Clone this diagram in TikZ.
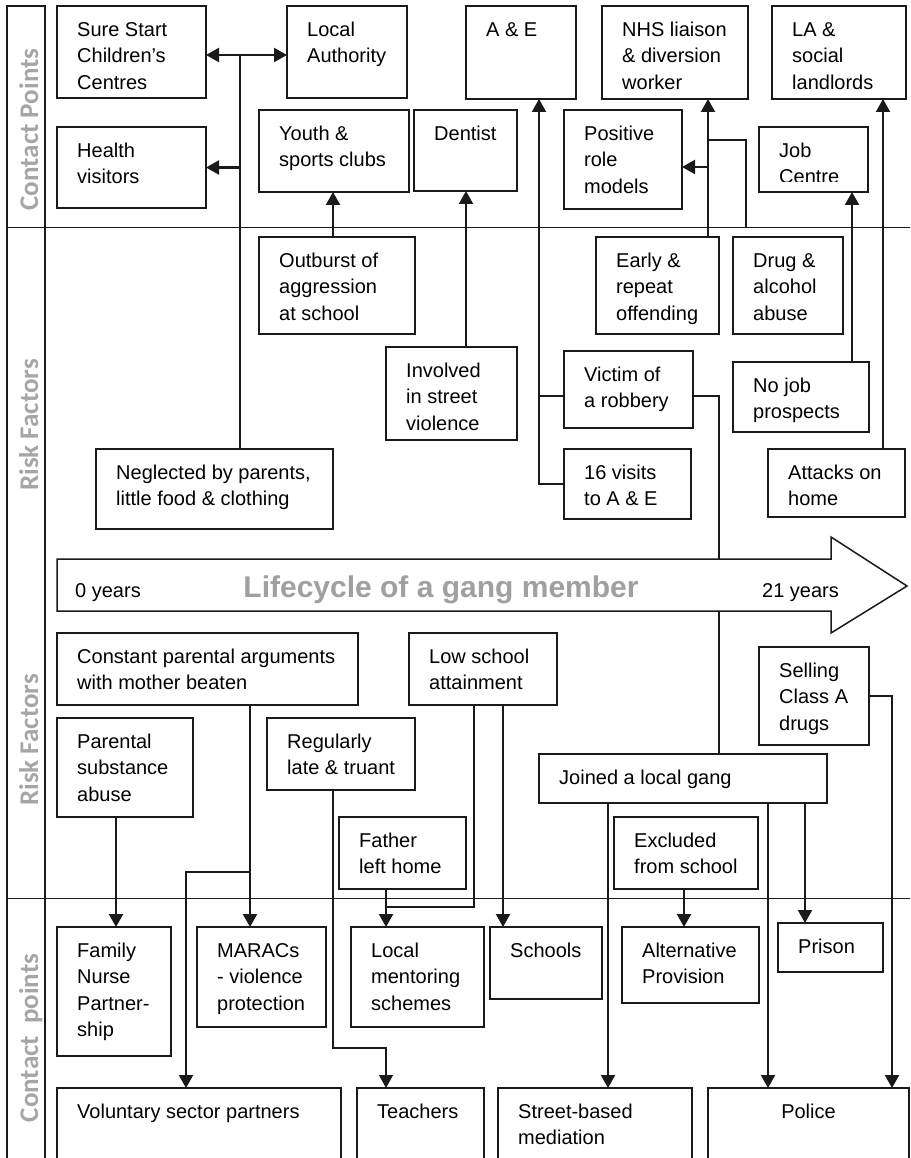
\documentclass[tikz,border=0pt]{standalone}
\usepackage{fontspec}
\setmainfont{Liberation Sans}
\newfontfamily\calib{Carlito}
\usetikzlibrary{arrows.meta,calc}
\definecolor{lblgray}{HTML}{A6A6A6}
\definecolor{titgray}{HTML}{A0A0A0}
\definecolor{ink}{HTML}{1A1A1A}
\newcommand\mkbox[6]{%
  \node[cbox, minimum width={(#4)-(#2)}, minimum height={(#5)-(#3)}] (#1) at (#2,#3) {};
  \node[ctext] (#1-t) at ({#2+20},{#3+14}) {\rule{0pt}{16pt}#6};}
\begin{document}
\begin{tikzpicture}[x=1pt,y=-1pt,
  cbox/.style={draw=ink, line width=1.5pt, anchor=north west, inner sep=0pt, outer sep=0pt, fill=white},
  ctext/.style={anchor=north west, align=left, inner sep=0pt, font=\fontsize{20}{26.5}\selectfont},
  sidelbl/.style={rotate=90, anchor=base, inner sep=0pt, text=lblgray, font=\calib\bfseries\fontsize{27}{27}\selectfont},
  thk/.style={draw=ink, line width=2.2pt},
  thn/.style={draw=ink, line width=1.3pt},
  mid/.style={draw=ink, line width=1.6pt},
  divl/.style={draw=ink, line width=1pt},
  >={Triangle[length=13pt,width=14pt]}]
\useasboundingbox (0,0) rectangle (910,1158);
\clip (0,0) rectangle (910,1158);
% frame and dividers
\draw[line width=1.5pt, draw=ink] (7,1170) -- (7,6) -- (45,6) -- (45,1170);
\draw[divl] (7,228) -- (910,228);
\draw[divl] (7,898) -- (910,898);
\node[sidelbl] (l1) at (38,129.5) {Contact Points};
\node[sidelbl] (l2) at (38,425) {Risk Factors};
\node[sidelbl] (l3) at (38,740) {Risk Factors};
\node[sidelbl] (l4) at (38,1038) {Contact\hspace{0.45em}points};
% top contact points
\mkbox{ss}{57}{6}{206}{98}{Sure Start\\Children’s\\Centres}
\mkbox{la}{287}{6}{407}{98}{Local\\Authority}
\mkbox{ae}{466}{6}{576}{99}{A \& E}
\mkbox{nhs}{602}{6}{748}{99}{NHS liaison\\\& diversion\\worker}
\mkbox{las}{772}{6}{906}{99}{LA \&\\social\\landlords}
\mkbox{hv}{57}{127}{206}{208}{Health\\visitors}
\mkbox{ys}{259}{110}{409}{192}{Youth \&\\sports clubs}
\mkbox{de}{414}{110}{517}{191}{Dentist}
\mkbox{pr}{564}{110}{682}{209}{Positive\\role\\models}
\node[cbox, minimum width=109, minimum height=65] (jc) at (759,127) {};
\begin{scope}
\clip (759,127) rectangle (868,182);
\node[ctext] (jc-t) at (779,141) {\rule{0pt}{16pt}Job\\Centre};
\end{scope}
% top risk factors
\mkbox{oa}{259}{237}{415}{334}{Outburst of\\aggression\\at school}
\mkbox{er}{596}{237}{719}{334}{Early \&\\repeat\\offending}
\mkbox{da}{733}{237}{843}{334}{Drug \&\\alcohol\\abuse}
\mkbox{iv}{386}{347}{517}{440}{Involved\\in street\\violence}
\mkbox{vr}{564}{351}{693}{428}{Victim of\\a robbery}
\mkbox{nj}{733}{362}{869}{432}{No job\\prospects}
\mkbox{nb}{96}{449}{333}{529}{Neglected by parents,\\little food \& clothing}
\mkbox{vv}{564}{449}{691}{519}{16 visits\\to A \& E}
\mkbox{ah}{768}{449}{905}{517}{Attacks on\\home}
% bottom risk factors
\mkbox{cp}{57}{633}{358}{705}{Constant parental arguments\\with mother beaten}
\mkbox{low}{409}{633}{557}{705}{Low school\\attainment}
\mkbox{sel}{759}{647}{869}{745}{Selling\\Class A\\drugs}
\mkbox{ps}{57}{718}{193}{817}{Parental\\substance\\abuse}
\mkbox{rl}{267}{718}{415}{790}{Regularly\\late \& truant}
\mkbox{jg}{539}{754}{827}{803}{Joined a local gang}
\mkbox{fl}{339}{817}{466}{889}{Father\\left home}
\mkbox{ex}{614}{817}{758}{889}{Excluded\\from school}
% bottom contact points
\mkbox{fnp}{57}{927}{171}{1056}{Family\\Nurse\\Partner-\\ship}
\mkbox{mar}{197}{927}{326}{1027}{MARACs\\- violence\\protection}
\mkbox{lm}{351}{927}{484}{1027}{Local\\mentoring\\schemes}
\mkbox{sch}{490}{927}{602}{999}{Schools}
\mkbox{ap}{622}{927}{759}{1003}{Alternative\\Provision}
\mkbox{pri}{778}{923}{883}{972}{Prison}
\mkbox{vol}{57}{1088}{341}{1175}{Voluntary sector partners}
\mkbox{tea}{357}{1088}{484}{1175}{Teachers}
\mkbox{sbm}{498}{1088}{692}{1175}{Street-based\\mediation}
\node[cbox, minimum width=201, minimum height=87] (pol) at (708,1088) {};
\node[ctext, anchor=base] (pol-t) at (808.5,1118) {Police};
% connectors top
\coordinate (kNeg) at (240,55);
\coordinate (kHv) at (240,167.5);
\draw[mid] (nb.north -| kNeg) -- (kNeg);
\draw[thk,<->] (ss.east |- kNeg) -- (la.west |- kNeg);
\draw[thk,->] (kHv) -- (hv.east |- kHv);
\coordinate (kY) at (333,0);
\draw[thk,->] (oa.north -| kY) -- (ys.south -| kY);
\coordinate (kD) at (466,0);
\draw[thk,->] (iv.north -| kD) -- (de.south -| kD);
\coordinate (kAE) at (539,0);
\coordinate (kVr) at (539,396);
\draw[thk,->] (vv.west) -- (vv.west -| kAE) -- (ae.south -| kAE);
\draw[thk] (vr.west |- kVr) -- (kVr);
\coordinate (kVJ) at (719,396);
\draw[thn] (vr.east |- kVJ) -- (kVJ) -- (jg.north -| kVJ);
\coordinate (kN) at (708,0);
\draw[thk,->] (er.north -| kN) -- (nhs.south -| kN);
\coordinate (kPR) at (708,167);
\draw[thk,->] (kPR) -- (pr.east |- kPR);
\coordinate (kT1) at (708,140);
\coordinate (kT2) at (746,140);
\coordinate (kT3) at (746,228);
\draw[thn] (kT1) -- (kT2) -- (kT3);
\coordinate (kJ) at (852,0);
\draw[thk,->] (nj.north -| kJ) -- (jc.south -| kJ);
\coordinate (kL) at (883,0);
\draw[thk,->] (ah.north -| kL) -- (las.south -| kL);
% connectors bottom
\coordinate (kF) at (116,0);
\draw[thk,->] (ps.south -| kF) -- (fnp.north -| kF);
\coordinate (kC) at (250,0);
\draw[thk,->] (cp.south -| kC) -- (mar.north -| kC);
\coordinate (kV1) at (250,872);
\coordinate (kV2) at (186,872);
\draw[thk,->] (kV1) -- (kV2) -- (vol.north -| kV2);
\coordinate (kR1) at (333,1048);
\coordinate (kR2) at (386,1048);
\draw[thn,->] (rl.south -| kR1) -- (kR1) -- (kR2) -- (tea.north -| kR2);
\coordinate (kM) at (386,0);
\draw[thk,->] (fl.south -| kM) -- (lm.north -| kM);
\coordinate (kL1) at (474,907);
\coordinate (kL2) at (386,907);
\draw[thn] (low.south -| kL1) -- (kL1) -- (kL2);
\coordinate (kS) at (503,0);
\draw[thk,->] (low.south -| kS) -- (sch.north -| kS);
\coordinate (kA) at (684,0);
\draw[thk,->] (ex.south -| kA) -- (ap.north -| kA);
\coordinate (kG1) at (608,0);
\coordinate (kG2) at (768,0);
\coordinate (kG3) at (805,0);
\draw[thk,->] (jg.south -| kG1) -- (sbm.north -| kG1);
\draw[thk,->] (jg.south -| kG2) -- (pol.north -| kG2);
\draw[thk,->] (jg.south -| kG3) -- (pri.north -| kG3);
\coordinate (kSe) at (892,0);
\draw[thk,->] (sel.east) -- (sel.east -| kSe) -- (pol.north -| kSe);
% lifecycle arrow
\draw[line width=1.5pt, draw=ink, fill=white] (57,559) -- (831,559) -- (831,537) -- (907,586) -- (831,633) -- (831,611) -- (57,611) -- cycle;
\node[ctext, anchor=base west] (y0) at (75,597) {0 years};
\node[ctext, anchor=base west] (y21) at (762,597) {21 years};
\node[anchor=base, inner sep=0pt, text=titgray, font=\bfseries\fontsize{30}{30}\selectfont] (title) at (441,597) {Lifecycle of a gang member};
\end{tikzpicture}
\end{document}
